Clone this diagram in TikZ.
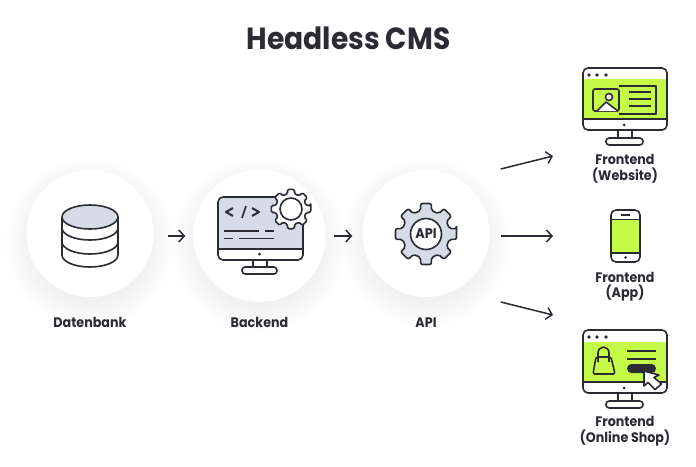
\documentclass[tikz,border=0pt]{standalone}
\usepackage{fontspec}
\setmainfont{Poppins}[FakeStretch=0.92]
\usetikzlibrary{arrows.meta,calc}
\definecolor{ink}{HTML}{2A2B33}
\definecolor{lime}{HTML}{C6FA48}
\definecolor{steel}{HTML}{D5DCE8}
% one monitor: origin is the top left corner of the case
\newcommand{\monitorcase}[3]{%
	\fill[white,rounded corners=5pt] (0,0) rectangle (84,#1);
	\fill[#2] #3;
	\draw[icon,rounded corners=5pt] (0,0) rectangle (84,#1);
	\draw[icon] (0,#1-11) -- (84,#1-11);
	\fill[ink] (41,#1-5) circle (1.5);
	\draw[icon] (35,#1) -- (35,#1+8) (49,#1) -- (49,#1+8);
	\draw[icon,fill=white,rounded corners=3.2pt] (23,#1+8) rectangle (60,#1+15);
}
% one gear: radius of the teeth, radius of the body
\newcommand{\gearoutline}[2]{%
	(-10:#1) \foreach \a in {0,45,...,315} {
		-- ({\a-10}:#1) -- ({\a+10}:#1) -- ({\a+13}:#2) -- ({\a+32}:#2)
	} -- cycle
}
\begin{document}
\begin{tikzpicture}[x=1pt,y=-1pt]
	 \tikzstyle{icon}=[draw=ink,line width=1.6pt,line join=round]
	 \tikzstyle{hub}=[circle,fill=white,inner sep=0pt]
	 \tikzstyle{caption}=[text=ink,font=\fontsize{13.8}{15.5}\selectfont\bfseries,align=center,inner sep=0pt]
	 \tikzstyle{flow}=[draw=ink,line width=1.5pt,-{Straight Barb[length=5.5pt,width=12pt]}]
	 \useasboundingbox (0,0) rectangle (696,466);
	 \fill[white] (0,0) rectangle (696,466);
	 \node[text=ink,font=\fontsize{30.6}{32}\selectfont\bfseries,inner sep=0pt] (title) at (348.5,38) {Headless CMS};
	 % soft shadows under the circles
	 \foreach \cx/\cy/\rad in {90/233.5/63.5,259.5/236/66,426/233.5/63.5} {
		\foreach \k in {-6,-4,...,22} {
			\fill[black,opacity=0.0045] (\cx,\cy+9) circle ({\rad+\k});
		}
	 }
	 \node[hub,minimum size=127pt] (db) at (90,233.5) {};
	 \node[hub,minimum size=132pt] (backend) at (259.5,236) {};
	 \node[hub,minimum size=127pt] (api) at (426,233.5) {};
	 \node[caption] (dblabel) at (90,322.5) {Datenbank};
	 \node[caption] (backendlabel) at (259.5,322.5) {Backend};
	 \node[caption] (apilabel) at (426,322.5) {API};
	 \node[caption] (weblabel) at (625,169) {Frontend\\(Website)};
	 \node[caption] (applabel) at (625,286.5) {Frontend\\(App)};
	 \node[caption] (shoplabel) at (625,431) {Frontend\\(Online Shop)};
	 % database
	 \draw[icon] (62,217) -- (62,255) arc[start angle=180,end angle=0,x radius=28,y radius=12] -- (118,217);
	 \draw[icon] (62,228) arc[start angle=180,end angle=0,x radius=28,y radius=12];
	 \draw[icon] (62,242) arc[start angle=180,end angle=0,x radius=28,y radius=12];
	 \draw[icon,fill=steel] (90,217) ellipse (28 and 12);
	 % backend
	 \begin{scope}[shift={(218,197)}]
		\fill[white,rounded corners=5pt] (0,0) rectangle (85,63);
		\fill[steel,rounded corners=5pt] (0,52) -- (0,0) -- (85,0) -- (85,52) -- cycle;
		\draw[icon,rounded corners=5pt] (0,0) rectangle (85,63);
		\draw[icon] (0,52) -- (85,52);
		\fill[ink] (41.5,57) circle (1.5);
		\draw[icon] (35,63) -- (35,70) (49,63) -- (49,70);
		\draw[icon,fill=white,rounded corners=3.2pt] (24,70) rectangle (59,77);
		\draw[icon,line width=2pt] (15,11) -- (8,15) -- (15,19);
		\draw[icon] (24,21) -- (28,9);
		\draw[icon,line width=2pt] (34,11) -- (41,15) -- (34,19);
		\draw[line width=1.2pt,ink] (6,34) -- (41,34) (47,34) -- (56,34) (6,41.5) -- (15,41.5) (21,41.5) -- (56,41.5);
	 \end{scope}
	 \begin{scope}[shift={(291,209)}]
		\draw[icon,fill=white,rounded corners=1.5pt] \gearoutline{20}{15.5};
		\draw[icon,fill=white] (0,0) circle (11);
	 \end{scope}
	 % api gear
	 \begin{scope}[shift={(426,234)}]
		\draw[icon,fill=steel,rounded corners=2pt] \gearoutline{31}{24};
	 \end{scope}
	 \node[circle,draw=ink,line width=1.6pt,fill=white,minimum size=31pt,inner sep=0pt,text=ink,font=\fontsize{14}{14}\selectfont\bfseries] (apigear) at (426,234) {API};
	 % website
	 \begin{scope}[shift={(583,68)}]
		\monitorcase{62}{lime}{(0,11) rectangle (84,51)}
		\fill[ink] (6,7) circle (1.8) (14,7) circle (1.8) (23,7) circle (1.8);
		\draw[icon] (36,18) -- (73,18) -- (73,46) -- (36,46);
		\draw[icon,rounded corners=2pt] (10,21) rectangle (36,43);
		\draw[icon,fill=white] (14,43) -- (23,34) -- (35,43);
		\draw[icon,fill=white] (26,29) circle (3.5);
		\draw[icon] (46,24) -- (68,24) (46,31) -- (68,31) (46,38) -- (68,38);
	 \end{scope}
	 % phone
	 \fill[white,rounded corners=5pt] (611,210) rectangle (640,262);
	 \fill[lime] (611,219.5) rectangle (640,253);
	 \draw[icon,rounded corners=5pt] (611,210) rectangle (640,262);
	 \draw[icon] (611,219.5) -- (640,219.5) (611,253) -- (640,253) (621,215) -- (630,215);
	 \fill[ink] (625.5,257.5) circle (1.5);
	 % online shop
	 \begin{scope}[shift={(583,330)}]
		\monitorcase{63}{lime}{(0,12) rectangle (84,52)}
		\fill[ink] (6,7) circle (1.8) (14,7) circle (1.8) (23,7) circle (1.8);
		\draw[icon,rounded corners=1.5pt] (13,27) -- (28,27) -- (32,44) -- (10,44) -- cycle;
		\draw[icon] (15,32) -- (15,23) arc[start angle=180,end angle=360,x radius=5.5,y radius=6] -- (26,32);
		\draw[icon] (44,21) -- (73,21) (44,29) -- (73,29);
		\fill[ink,rounded corners=4.5pt] (44,34) rectangle (73,43);
		\draw[icon,fill=white] (61,41) -- (61,56) -- (65,52.5) -- (72,59.5) -- (78.5,54) -- (71,47.5) -- (76,45) -- cycle;
	 \end{scope}
	 % arrows
	 \coordinate (tipweb) at (553,156);
	 \coordinate (tipapp) at (553,236);
	 \coordinate (tipshop) at (553,315);
	 \draw[flow] ($(db.east)+(14,2.5)$) -- ($(backend.west)+(-8,0)$);
	 \draw[flow] ($(backend.east)+(8,0)$) -- ($(api.west)+(-10,2.5)$);
	 \draw[flow] ($(api.east)+(11,-64.5)$) -- (tipweb);
	 \draw[flow] ($(api.east)+(11,2.5)$) -- (tipapp);
	 \draw[flow] ($(api.east)+(11,68.5)$) -- (tipshop);
\end{tikzpicture}
\end{document}
